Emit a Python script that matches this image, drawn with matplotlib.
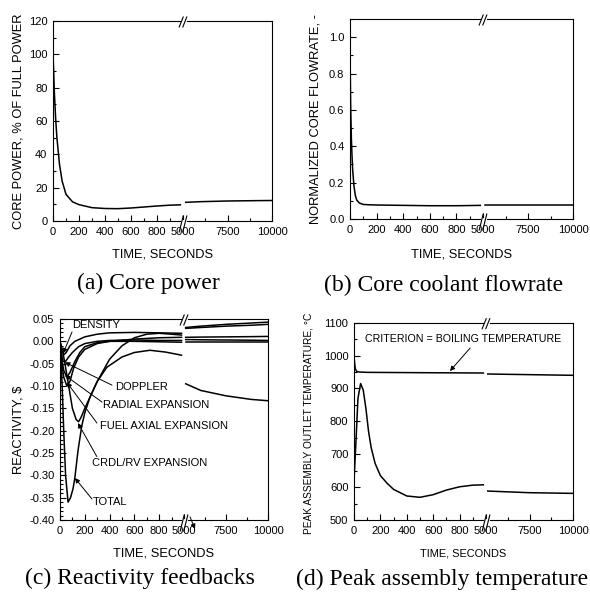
import numpy as np
import matplotlib.pyplot as plt
from matplotlib.lines import Line2D
from matplotlib.ticker import MultipleLocator, FixedLocator, FormatStrFormatter

plt.rcParams['font.family'] = ['Liberation Sans', 'DejaVu Sans']

W, H = 590, 599

# (a) core power, % of full power
t_pow_early = [0, 5, 10, 20, 30, 40, 50, 70, 100, 150, 200, 300, 400, 500, 600, 700, 800, 900, 980]
pow_early = [100, 90, 78, 62, 50, 42, 34, 24, 16, 11.5, 9.8, 8.0, 7.5, 7.4, 7.8, 8.4, 9.0, 9.5, 9.7]
t_pow_late = [5150, 6000, 7500, 9000, 10000]
pow_late = [11.2, 11.6, 12.0, 12.2, 12.3]

# (b) normalized core flowrate
t_flow_early = [0, 2, 5, 10, 15, 20, 30, 40, 50, 70, 100, 150, 200, 300, 400, 500, 600, 700, 800, 900, 980]
flow_early = [1.0, 0.8, 0.62, 0.45, 0.35, 0.27, 0.18, 0.13, 0.105, 0.088, 0.080, 0.078, 0.077,
              0.076, 0.075, 0.074, 0.073, 0.073, 0.073, 0.074, 0.075]
t_flow_late = [5100, 6000, 7500, 9000, 10000]
flow_late = [0.075, 0.075, 0.075, 0.075, 0.075]

# (c) reactivity feedbacks, $
t_dens = [0, 15, 30, 50, 80, 120, 200, 300, 400, 600, 800, 980]
r_dens = [0, -0.02, -0.03, -0.025, -0.01, 0.0, 0.01, 0.016, 0.019, 0.02, 0.019, 0.018]
t_dop = [0, 10, 25, 45, 70, 100, 150, 200, 300, 400, 600, 800, 980]
r_dop = [0, -0.03, -0.045, -0.045, -0.035, -0.025, -0.012, -0.005, 0.0, 0.002, 0.003, 0.002, 0.002]
t_rad = [0, 15, 30, 55, 80, 120, 160, 200, 300, 400, 600, 800, 980]
r_rad = [0, -0.04, -0.065, -0.08, -0.07, -0.045, -0.025, -0.012, -0.003, 0.0, 0.0, -0.001, -0.002]
t_fuel = [0, 15, 30, 55, 80, 110, 150, 200, 300, 400, 600, 800, 980]
r_fuel = [0, -0.05, -0.08, -0.1, -0.09, -0.06, -0.035, -0.018, -0.005, 0.0, 0.005, 0.008, 0.009]
t_crdl = [0, 20, 40, 70, 100, 130, 150, 170, 200, 250, 300, 400, 500, 600, 700, 800, 900, 980]
r_crdl = [0, -0.02, -0.05, -0.1, -0.15, -0.175, -0.18, -0.17, -0.15, -0.12, -0.09, -0.04,
          -0.01, 0.008, 0.016, 0.018, 0.016, 0.014]
t_tot = [0, 10, 20, 30, 45, 65, 85, 105, 120, 145, 175, 200, 242, 300, 378, 500, 600, 725, 850, 980]
r_tot = [0, -0.05, -0.12, -0.2, -0.3, -0.36, -0.35, -0.33, -0.305, -0.245, -0.19, -0.16,
         -0.125, -0.09, -0.058, -0.035, -0.025, -0.02, -0.024, -0.031]
t_react_late = [5100, 6000, 7500, 9000, 10000]
r_crdl_late = [0.031, 0.034, 0.038, 0.041, 0.043]
r_dens_late = [0.029, 0.031, 0.034, 0.036, 0.038]
r_fuel_late = [0.009, 0.0095, 0.010, 0.0105, 0.011]
r_dop_late = [0.004, 0.0035, 0.003, 0.0025, 0.002]
r_rad_late = [-0.002, -0.002, -0.002, -0.002, -0.002]
r_tot_late = [-0.095, -0.11, -0.122, -0.13, -0.133]

# (d) peak assembly outlet temperature, C
t_crit_early = [0, 5, 10, 20, 40, 100, 500, 980]
crit_early = [1000, 975, 960, 952, 950, 949, 948, 947]
t_crit_late = [5100, 7500, 10000]
crit_late = [944, 942, 940]
t_temp_early = [0, 5, 15, 30, 50, 70, 90, 110, 130, 160, 200, 250, 300, 400, 500, 600, 700, 800, 900, 980]
temp_early = [620, 660, 740, 870, 915, 895, 840, 770, 720, 672, 635, 612, 593, 573, 569, 577,
              591, 601, 606, 607]
t_temp_late = [5100, 7500, 10000]
temp_late = [588, 583, 581]


def broken(fig, x0, xb, x1, y0, y1):
    axl = fig.add_axes([x0 / W, 1 - y1 / H, (xb - x0) / W, (y1 - y0) / H])
    axr = fig.add_axes([xb / W, 1 - y1 / H, (x1 - xb) / W, (y1 - y0) / H], sharey=axl)
    axl.set_xlim(0, 1000)
    axr.set_xlim(5000, 10000)
    axl.spines['right'].set_visible(False)
    axr.spines['left'].set_visible(False)
    axr.set_facecolor('none')
    axl.xaxis.set_major_locator(FixedLocator([0, 200, 400, 600, 800]))
    axl.xaxis.set_minor_locator(FixedLocator([100, 300, 500, 700, 900]))
    axr.xaxis.set_major_locator(FixedLocator([5000, 7500, 10000]))
    axr.xaxis.set_minor_locator(FixedLocator([6250, 8750]))
    for ax in (axl, axr):
        ax.tick_params(which='both', direction='in', top=False, right=False, labelsize=8, pad=4)
        ax.tick_params(which='major', length=4, width=0.8)
        ax.tick_params(which='minor', length=2, width=0.8)
        for s in ax.spines.values():
            s.set_linewidth(0.8)
    axr.tick_params(axis='y', which='both', left=False, labelleft=False)
    # break marks "//"
    for yy, hh in ((y0 + 1, 5), (y1 + 3, 8)):
        fig.add_artist(Line2D([(xb - 1.5) / W, (xb + 1.5) / W], [1 - (yy - 1 if hh == 5 else y1) / H] * 2,
                              color='white', lw=2))
        for dx in (-1.8, 1.8):
            fig.add_artist(Line2D([(xb + dx - 2) / W, (xb + dx + 2) / W],
                                  [1 - (yy + hh) / H, 1 - (yy - hh) / H], color='k', lw=0.8))
    return axl, axr


def xlabel(fig, x0, x1, y, size=9.3):
    fig.text((x0 + x1) / 2 / W, 1 - y / H, 'TIME, SECONDS', ha='center', va='center', fontsize=size)


def caption(fig, x, y, s):
    fig.text(x / W, 1 - y / H, s, ha='center', va='center', fontsize=17, family='Liberation Serif')


fig = plt.figure(figsize=(W / 100, H / 100), dpi=100)
lw = 1.1
arrow = dict(arrowstyle='-|>', color='k', lw=0.7, mutation_scale=7, shrinkA=0, shrinkB=0)

# (a)
al, ar = broken(fig, 53, 183, 272, 21, 221)
al.plot(t_pow_early, pow_early, color='k', lw=lw)
ar.plot(t_pow_late, pow_late, color='k', lw=lw)
al.set_ylim(0, 120)
al.yaxis.set_major_locator(MultipleLocator(20))
al.yaxis.set_minor_locator(MultipleLocator(10))
al.set_ylabel('CORE POWER, % OF FULL POWER', fontsize=9.3)
al.yaxis.set_label_coords(-0.223, 0.5)
xlabel(fig, 53, 272, 254)
caption(fig, 148, 283, '(a) Core power')

# (b)
bl, br = broken(fig, 350, 483, 573, 19, 219)
bl.plot(t_flow_early, flow_early, color='k', lw=lw)
br.plot(t_flow_late, flow_late, color='k', lw=lw)
bl.set_ylim(0, 1.1)
bl.yaxis.set_major_locator(MultipleLocator(0.2))
bl.yaxis.set_minor_locator(MultipleLocator(0.1))
bl.yaxis.set_major_formatter(FormatStrFormatter('%.1f'))
bl.set_ylabel('NORMALIZED CORE FLOWRATE, -', fontsize=9.3)
bl.yaxis.set_label_coords(-0.218, 0.5)
xlabel(fig, 350, 573, 254)
caption(fig, 444, 285, '(b) Core coolant flowrate')

# (c)
cl, cr = broken(fig, 60, 184, 268, 319, 520)
for tt, rr in ((t_dens, r_dens), (t_dop, r_dop), (t_rad, r_rad), (t_fuel, r_fuel),
               (t_crdl, r_crdl), (t_tot, r_tot)):
    cl.plot(tt, rr, color='k', lw=lw)
for rr in (r_crdl_late, r_dens_late, r_fuel_late, r_dop_late, r_rad_late, r_tot_late):
    cr.plot(t_react_late, rr, color='k', lw=lw)
cl.set_ylim(-0.40, 0.05)
cl.yaxis.set_major_locator(MultipleLocator(0.05))
cl.yaxis.set_minor_locator(MultipleLocator(0.01))
cl.yaxis.set_major_formatter(FormatStrFormatter('%.2f'))
cl.set_ylabel('REACTIVITY, $', fontsize=9.3)
cl.yaxis.set_label_coords(-0.29, 0.45)
labels_c = [
    ('DENSITY', (97, 0.037), (97, 0.021), (25, -0.027)),
    ('DOPPLER', (443, -0.1015), (419, -0.098), (40, -0.047)),
    ('RADIAL EXPANSION', (347, -0.143), (339, -0.136), (40, -0.076)),
    ('FUEL AXIAL EXPANSION', (322, -0.19), (298, -0.183), (56, -0.092)),
    ('CRDL/RV EXPANSION', (258, -0.273), (297, -0.258), (145, -0.183)),
    ('TOTAL', (266, -0.36), (258, -0.353), (120, -0.306)),
]
for s, pos, tail, tip in labels_c:
    cl.text(pos[0], pos[1], s, ha='left', va='center', fontsize=8)
    cl.annotate('', xy=tip, xytext=tail, arrowprops=arrow)
cr.annotate('', xy=(5655, -0.42), xytext=(5357, -0.393), arrowprops=arrow, annotation_clip=False)
xlabel(fig, 60, 268, 553)
caption(fig, 140, 578, '(c) Reactivity feedbacks')

# (d)
dl, dr = broken(fig, 354, 486, 573, 322.7, 520)
dl.plot(t_crit_early, crit_early, color='k', lw=lw)
dr.plot(t_crit_late, crit_late, color='k', lw=lw)
dl.plot(t_temp_early, temp_early, color='k', lw=lw)
dr.plot(t_temp_late, temp_late, color='k', lw=lw)
dl.set_ylim(500, 1100)
dl.yaxis.set_major_locator(MultipleLocator(100))
dl.yaxis.set_minor_locator(MultipleLocator(50))
dl.set_ylabel('PEAK ASSEMBLY OUTLET TEMPERATURE, \u00b0C', fontsize=7.3)
dl.yaxis.set_label_coords(-0.31, 0.49)
dl.text(83, 1050, 'CRITERION = BOILING TEMPERATURE', ha='left', va='center', fontsize=7.7)
dl.annotate('', xy=(727, 953), xytext=(880, 1023), arrowprops=arrow)
xlabel(fig, 354, 573, 553, size=7.9)
caption(fig, 442, 579, '(d) Peak assembly temperature')

fig.savefig('out.png', dpi=100)
